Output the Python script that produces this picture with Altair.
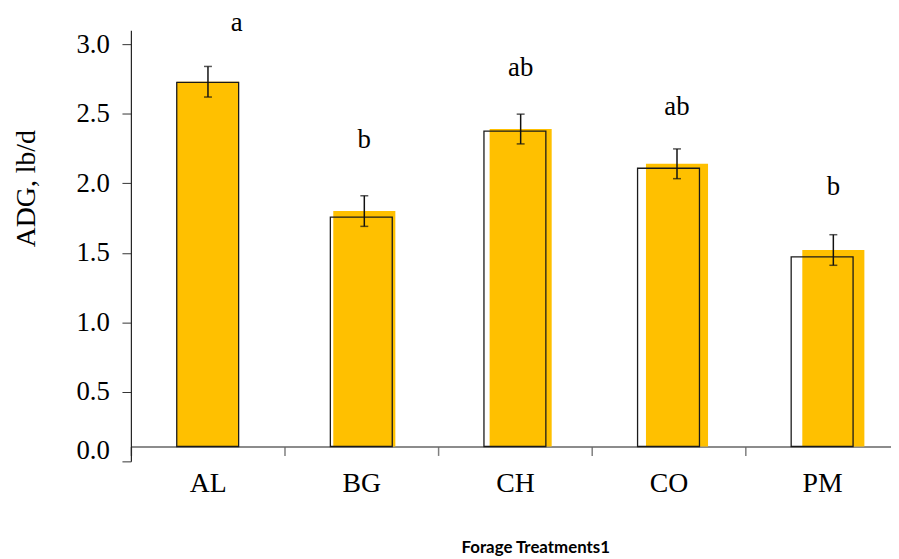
import altair as alt
import pandas as pd

# ---- data ----
categories = ["AL", "BG", "CH", "CO", "PM"]
adg_fill = [2.73, 1.80, 2.39, 2.14, 1.52]        # yellow bars (with error bars)
adg_outline = [2.725, 1.757, 2.375, 2.108, 1.471]  # outlined bars
se = [0.11, 0.11, 0.107, 0.107, 0.11]
letters = ["a", "b", "ab", "ab", "b"]
letter_y = [3.15, 2.31, 2.83, 2.55, 1.97]
y_ticks = [0.0, 0.5, 1.0, 1.5, 2.0, 2.5, 3.0]
BASELINE = 0.107   # value at which the category axis crosses

df = pd.DataFrame({
    "cat": categories,
    "fill": adg_fill,
    "outline": adg_outline,
    "lo": [m - s for m, s in zip(adg_fill, se)],
    "hi": [m + s for m, s in zip(adg_fill, se)],
    "letter": letters,
    "ly": letter_y,
})

YELLOW = "#FFC000"
SERIF = "Liberation Serif"

y_scale = alt.Scale(domain=[0, 3.1], nice=False, zero=False)
x_out = alt.Scale(domain=categories, paddingInner=0, paddingOuter=0)
x_yel = alt.Scale(domain=categories, range=[-1.1, 787.7], paddingInner=0, paddingOuter=0)

base = alt.Chart(df)

yellow = base.mark_bar(color=YELLOW, width=alt.RelativeBandSize(0.397)).encode(
    x=alt.X("cat:N", scale=x_yel, axis=None, sort=categories),
    y=alt.Y("fill:Q", scale=y_scale,
            axis=alt.Axis(
                values=y_ticks, format=".1f", title="ADG, lb/d",
                grid=False, tickSize=9, tickColor="#333333",
                domainColor="#222222", domainWidth=1.2,
                labelFont=SERIF, labelFontSize=27, labelColor="#000000",
                labelPadding=12.7,
                labelOffset={"condition": {"test": "datum.value === 0", "value": -11}, "value": 0},
                titleFont=SERIF, titleFontSize=28, titleFontWeight="normal",
                titleColor="#000000", titleAngle=270, titleX=-105.7, titleY=159.3,
                titleAlign="center", titleBaseline="middle",
            )),
    y2=alt.datum(BASELINE),
)

outlined = base.mark_bar(fill="transparent", stroke="#1a1a1a", strokeWidth=1.3,
                         width=alt.RelativeBandSize(0.403)).encode(
    x=alt.X("cat:N", scale=x_out, sort=categories,
            axis=alt.Axis(
                title="Forage Treatments1", labelAngle=0, tickBand="extent",
                offset=-15, tickSize=9, tickColor="#7f7f7f", tickWidth=1.5,
                domainColor="#666666", domainWidth=1.5,
                labelFont=SERIF, labelFontSize=28, labelColor="#000000",
                labelPadding=14,
                titleFont="Lato", titleFontSize=17, titleFontWeight="bold",
                titleColor="#000000", titleX=408, titleY=102,
                titleAlign="center", titleBaseline="middle",
            )),
    y=alt.Y("outline:Q", scale=y_scale),
    y2=alt.datum(BASELINE),
)

err = base.mark_rule(color="#111111", strokeWidth=1.5).encode(
    x=alt.X("cat:N", scale=x_yel, axis=None, sort=categories),
    y=alt.Y("lo:Q", scale=y_scale),
    y2="hi:Q",
)
cap_hi = base.mark_tick(color="#111111", thickness=1.5, size=8).encode(
    x=alt.X("cat:N", scale=x_yel, axis=None, sort=categories),
    y=alt.Y("hi:Q", scale=y_scale),
)
cap_lo = base.mark_tick(color="#111111", thickness=1.5, size=8).encode(
    x=alt.X("cat:N", scale=x_yel, axis=None, sort=categories),
    y=alt.Y("lo:Q", scale=y_scale),
)

txt_main = base.transform_filter("datum.cat !== 'AL'").mark_text(
    font=SERIF, fontSize=27, color="#000000", baseline="middle").encode(
    x=alt.X("cat:N", scale=x_yel, axis=None, sort=categories),
    y=alt.Y("ly:Q", scale=y_scale),
    text="letter:N",
)
txt_al = base.transform_filter("datum.cat === 'AL'").mark_text(
    font=SERIF, fontSize=27, color="#000000", baseline="middle", dx=29).encode(
    x=alt.X("cat:N", scale=x_yel, axis=None, sort=categories),
    y=alt.Y("ly:Q", scale=y_scale),
    text="letter:N",
)

chart = alt.layer(yellow, outlined, err, cap_hi, cap_lo, txt_main, txt_al).resolve_scale(
    x="independent"
).properties(
    width=775, height=435,
    autosize="none",
    padding={"left": 124, "top": 20, "right": -8, "bottom": 94},
).configure_view(stroke=None)

chart.save("out.html", embed_options={"renderer": "svg", "actions": False})
